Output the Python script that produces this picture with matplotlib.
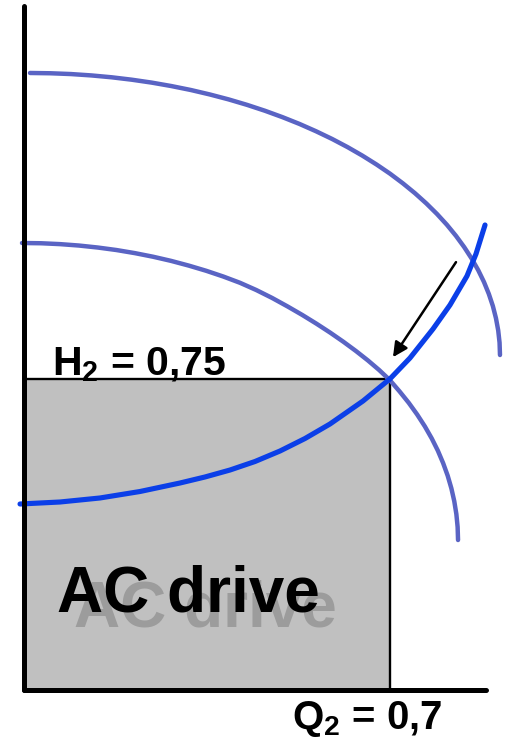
import matplotlib
matplotlib.use("Agg")
import matplotlib.pyplot as plt
from matplotlib.patches import Rectangle
from matplotlib import transforms

# ─── Data (Q and H as fractions of nominal) ──────────────────────────────────
# pump curve at nominal speed
pump_hi_q = [0.0115, 0.0507, 0.0898, 0.1288, 0.1676, 0.2060, 0.2441, 0.2817, 0.3189,
             0.3554, 0.3913, 0.4264, 0.4608, 0.4943, 0.5269, 0.5585, 0.5891, 0.6186,
             0.6469, 0.6740, 0.6999, 0.7244, 0.7476, 0.7694, 0.7897, 0.8086, 0.8259,
             0.8417, 0.8559, 0.8685, 0.8795, 0.8888, 0.8965, 0.9024, 0.9067, 0.9093,
             0.9101]
pump_hi_h = [1.4868, 1.4861, 1.4842, 1.4809, 1.4764, 1.4706, 1.4636, 1.4553, 1.4458,
             1.4350, 1.4231, 1.4100, 1.3957, 1.3803, 1.3639, 1.3463, 1.3278, 1.3082,
             1.2877, 1.2663, 1.2441, 1.2209, 1.1970, 1.1723, 1.1470, 1.1210, 1.0944,
             1.0672, 1.0396, 1.0116, 0.9831, 0.9543, 0.9252, 0.8959, 0.8665, 0.8369,
             0.8072]

# pump curve at reduced speed
pump_lo_q = [-0.0038, 0.0326, 0.0689, 0.1050, 0.1410, 0.1766, 0.2120, 0.2469, 0.2813,
             0.3152, 0.3485, 0.3811, 0.4130, 0.4441, 0.4744, 0.5037, 0.5321, 0.5594,
             0.5857, 0.6108, 0.6348, 0.6576, 0.6791, 0.6993, 0.7182, 0.7357, 0.7517,
             0.7664, 0.7796, 0.7913, 0.8014, 0.8101, 0.8172, 0.8227, 0.8267, 0.8291,
             0.8299]
pump_lo_h = [1.0771, 1.0765, 1.0744, 1.0710, 1.0662, 1.0602, 1.0527, 1.0440, 1.0340,
             1.0226, 1.0101, 0.9963, 0.9812, 0.9638, 0.9447, 0.9244, 0.9037, 0.8825,
             0.8609, 0.8390, 0.8167, 0.7941, 0.7710, 0.7470, 0.7193, 0.6919, 0.6639,
             0.6353, 0.6062, 0.5767, 0.5467, 0.5164, 0.4857, 0.4549, 0.4238, 0.3927,
             0.3614]

# system curve
sys_q = [-0.0076, 0.0688, 0.1453, 0.2218, 0.2983, 0.3461, 0.3939, 0.4417, 0.4895,
         0.5373, 0.5851, 0.6482, 0.7000, 0.7380, 0.7820, 0.8145, 0.8470, 0.8642,
         0.8815]
sys_h = [0.4482, 0.4530, 0.4627, 0.4783, 0.4988, 0.5133, 0.5301, 0.5506, 0.5759,
         0.6060, 0.6410, 0.6964, 0.7500, 0.8000, 0.8699, 0.9277, 0.9976, 1.0506,
         1.1205]

Q2 = 0.7
H2 = 0.75
arrow_from = (0.826, 1.031)
arrow_to = (0.7055, 0.802)

PUMP_COLOR = "#5a64c4"
SYS_COLOR = "#0b3fe8"
FONT = "Liberation Sans"

plt.rcParams["mathtext.fontset"] = "custom"
plt.rcParams["mathtext.rm"] = "Liberation Sans:bold"
plt.rcParams["mathtext.it"] = "Liberation Sans:bold"
plt.rcParams["mathtext.bf"] = "Liberation Sans:bold"

fig = plt.figure(figsize=(5.06, 7.52), dpi=100)
ax = fig.add_axes([24 / 506, 62 / 752, 482 / 506, 690 / 752])
ax.set_xlim(0, 482 / 523)
ax.set_ylim(0, 690 / 415)
ax.axis("off")

# operating area
ax.add_patch(Rectangle((0, 0), Q2, H2, facecolor="#c0c0c0", edgecolor="black",
                       lw=1.7, zorder=1))

ax.plot(pump_hi_q, pump_hi_h, color=PUMP_COLOR, lw=3.2, solid_capstyle="round",
        solid_joinstyle="round", zorder=3, clip_on=False)
ax.plot(pump_lo_q, pump_lo_h, color=PUMP_COLOR, lw=3.2, solid_capstyle="round",
        solid_joinstyle="round", zorder=3, clip_on=False)
ax.plot(sys_q, sys_h, color=SYS_COLOR, lw=3.7, solid_capstyle="round",
        solid_joinstyle="round", zorder=4, clip_on=False)

# axes lines
ax.plot([0, 0], [0, 1.648], color="black", lw=3.6, solid_capstyle="round",
        zorder=5, clip_on=False)
ax.plot([0, 0.883], [0, 0], color="black", lw=3.6, solid_capstyle="round",
        zorder=5, clip_on=False)

ax.annotate("", xy=arrow_to, xytext=arrow_from,
            arrowprops=dict(arrowstyle="-|>", color="black", lw=1.8,
                            mutation_scale=22, shrinkA=0, shrinkB=0),
            zorder=6)

# labels
ax.text(0.0535, 0.759, r"H$_2$ = 0,75", fontsize=29.5, fontweight="bold",
        family=FONT, va="baseline", ha="left", zorder=6)
ax.text(0.5124, -0.094, r"Q$_2$ = 0,7", fontsize=29, fontweight="bold",
        family=FONT, va="baseline", ha="left", clip_on=False, zorder=6)

shadow = transforms.offset_copy(ax.transData, fig=fig, x=17, y=-15, units="dots")
ax.text(0.063, 0.188, "AC drive", fontsize=46, fontweight="bold", family=FONT,
        color="#9c9c9c", va="baseline", ha="left", transform=shadow, zorder=2)
ax.text(0.063, 0.188, "AC drive", fontsize=46, fontweight="bold", family=FONT,
        color="black", va="baseline", ha="left", zorder=2)

plt.savefig("out.png", dpi=100)
